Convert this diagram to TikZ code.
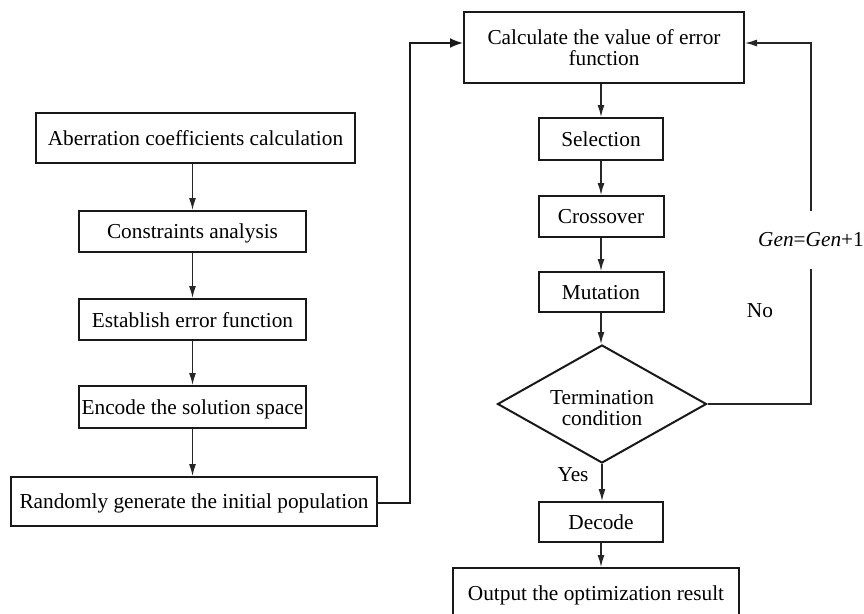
\documentclass[tikz,border=0pt]{standalone}
\usepackage{fontspec}
\setmainfont{Liberation Serif}
\usetikzlibrary{shapes.geometric,arrows.meta}
\begin{document}
\begin{tikzpicture}[x=1pt,y=-1pt,
  box/.style={draw=black!90,line width=2pt,inner sep=0pt,align=center,font=\fontsize{21.3}{21}\selectfont,text depth=0pt},
  arr/.style={draw=black!85,line width=1.3pt,-{Latex[length=12pt,width=7pt]}},
  bigarr/.style={draw=black!90,line width=2pt,-{Latex[length=13pt,width=10pt]}},
  plain/.style={draw=black!85,line width=1.3pt},
  lbl/.style={font=\fontsize{21.3}{21}\selectfont,inner sep=0pt}]
\useasboundingbox (0,0) rectangle (864,613);
% left column
\node[box,minimum width=319pt,minimum height=50pt] (A) at (195.5,138) {Aberration coefficients calculation};
\node[box,minimum width=227pt,minimum height=41pt] (B) at (192.5,231.5) {Constraints analysis};
\node[box,minimum width=227pt,minimum height=41pt] (C) at (192.5,319.5) {Establish error function};
\node[box,minimum width=227pt,minimum height=42pt] (D) at (192.5,407) {Encode the solution space};
\node[box,minimum width=366pt,minimum height=49pt] (E) at (194,501.5) {Randomly generate the initial population};
% middle column
\node[box,text depth=,minimum width=280pt,minimum height=71pt] (F) at (604,47.5) {Calculate the value of error\\function};
\node[box,minimum width=124pt,minimum height=42pt] (G) at (601,139) {Selection};
\node[box,minimum width=125pt,minimum height=41pt] (H) at (601,216.5) {Crossover};
\node[box,minimum width=125pt,minimum height=40pt] (I) at (601,292) {Mutation};
\node[box,diamond,shape aspect=1.77,text depth=,minimum width=209pt,minimum height=118pt] (T) at (602,404) {\rule{0pt}{23pt}Termination\\condition};
\node[box,minimum width=124pt,minimum height=40pt] (K) at (601,522) {Decode};
\node[box,minimum width=286pt,minimum height=50pt] (O) at (596,593) {Output the optimization result};
% labels
\node[lbl,minimum height=57pt] (gen) at (811,240) {\textit{Gen}=\textit{Gen}+1};
\node[lbl] (no) at (760,311) {No};
\node[lbl] (yes) at (573,475) {Yes};
\coordinate (r1) at (410,43);
\coordinate (fb) at (811,43);
% connectors
\draw[arr] (A.south -| B.north) -- (B.north);
\draw[arr] (B) -- (C);
\draw[arr] (C) -- (D);
\draw[arr] (D.south) -- (D.south |- E.north);
\draw[bigarr] (E.east |- 0,503) -| (r1) -- (F.west |- r1);
\draw[arr] (F.south -| G.north) -- (G.north);
\draw[arr] (G) -- (H);
\draw[arr] (H) -- (I);
\draw[arr] (I.south) -- (I.south |- T.north);
\draw[arr] (T.south) -- (T.south |- K.north);
\draw[arr] (K.south) -- (K.south |- O.north);
\draw[plain] (T.east) -| (gen.south);
\draw[arr] (gen.north) |- (F.east |- fb);
\end{tikzpicture}
\end{document}
